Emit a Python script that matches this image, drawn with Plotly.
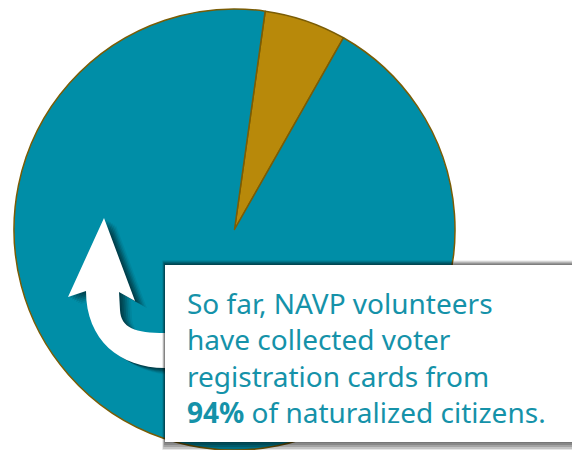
import plotly.graph_objects as go

# Data
labels = ["Not yet collected", "Collected"]
values = [6, 94]
slice_colors = ["#B8890A", "#008EA7"]
text_lines = [
    "So far, NAVP volunteers",
    "have collected voter",
    "registration cards from",
    "<b>94%</b> of naturalized citizens.",
]

W, H = 572, 450
TEAL_TEXT = "#1592A9"
FONT_SIZE = 28

fig = go.Figure()
cx, cy, r = 234.5, 229.5, 220.5
fig.add_trace(go.Pie(
    labels=labels, values=values, sort=False, direction="clockwise",
    rotation=8, textinfo="none", hoverinfo="label+percent",
    marker=dict(colors=slice_colors, line=dict(color="#7A5C05", width=1.5)),
    domain=dict(x=[(cx - r) / W, (cx + r) / W],
                y=[max(0, 1 - (cy + r) / H), min(1, 1 - (cy - r) / H)]),
    showlegend=False,
))

arrow = ("M 104 218 L 135 301 L 119 292 L 120 310 C 121 328 135 333 165 333 "
         "L 165 368 C 120 368 86 340 86 291 L 68 297 Z")

def shifted(path, dx, dy):
    res = []
    is_x = True
    for t in path.split():
        if t.isalpha():
            res.append(t)
            is_x = True
        else:
            v = float(t) + (dx if is_x else dy)
            res.append(f"{v:.1f}")
            is_x = not is_x
    return " ".join(res)

shapes = []
# arrow shadow (layered for blur)
for k, op in [(2, 0.14), (4, 0.15), (6, 0.15), (8, 0.12), (10, 0.09), (12, 0.06)]:
    shapes.append(dict(type="path", xref="x", yref="y", path=shifted(arrow, k, k * 0.6),
                       fillcolor=f"rgba(0,0,0,{op})", line=dict(width=0), layer="above"))
shapes.append(dict(type="path", xref="x", yref="y", path=arrow,
                   fillcolor="white", line=dict(width=0), layer="above"))
# box shadow
for k, op in [(1, 0.12), (3, 0.17), (5, 0.17), (7, 0.14), (9, 0.10)]:
    shapes.append(dict(type="rect", xref="x", yref="y", x0=165 - k * 0.3, x1=W + 20,
                       y0=265 - k * 0.5, y1=442 + k, fillcolor=f"rgba(0,0,0,{op})",
                       line=dict(width=0), layer="above"))
shapes.append(dict(type="rect", xref="x", yref="y", x0=165, x1=W + 20, y0=265, y1=442,
                   fillcolor="white", line=dict(width=0), layer="above"))

annotations = [dict(
    text="<br>".join(text_lines), x=185, y=357, xref="x", yref="y",
    xanchor="left", yanchor="middle", align="left", showarrow=False,
    font=dict(family="Noto Sans", size=FONT_SIZE, color=TEAL_TEXT),
)]

fig.update_layout(
    width=W, height=H, margin=dict(l=0, r=0, t=0, b=0),
    paper_bgcolor="white", plot_bgcolor="rgba(0,0,0,0)",
    xaxis=dict(range=[0, W], visible=False, fixedrange=True, domain=[0, 1]),
    yaxis=dict(range=[H, 0], visible=False, fixedrange=True, domain=[0, 1]),
    shapes=shapes, annotations=annotations,
)
fig.write_html(
    "out.html",
    config={"displayModeBar": False},
    post_script="document.body.style.margin='0';document.body.style.overflow='hidden';"
                "document.documentElement.style.overflow='hidden';",
)
